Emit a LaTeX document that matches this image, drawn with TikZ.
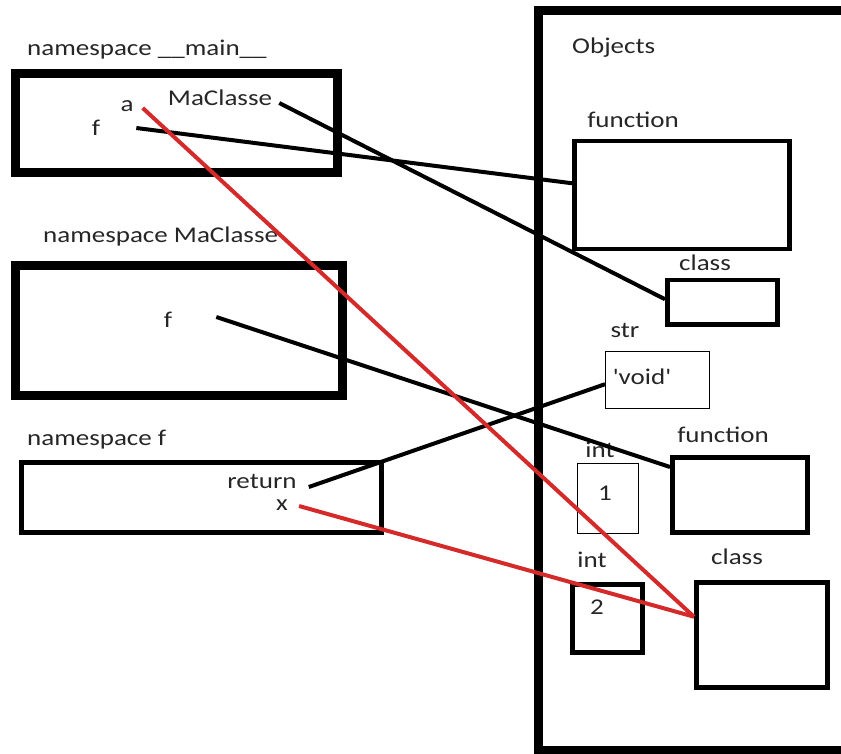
\documentclass[tikz,border=0pt]{standalone}
\usepackage{fontspec}
\newfontfamily\lbl{Carlito}[FakeStretch=1.2, Ligatures=TeXOff]
\definecolor{ptr}{RGB}{212,42,42}
\begin{document}
\begin{tikzpicture}[x=1pt, y=-1pt,
  lab/.style={font=\lbl\fontsize{22.5}{26}\selectfont, inner sep=0pt, text=black!85},
  nsbox/.style={draw, line width=9pt, inner sep=0pt, anchor=north west},
  objbox/.style={draw, line width=4.5pt, inner sep=0pt, anchor=north west},
  thinbox/.style={draw, line width=1.4pt, inner sep=0pt, anchor=north west},
  ref/.style={line width=4pt, black},
  redref/.style={line width=4pt, ptr}]
\useasboundingbox (0,0) rectangle (841,754);
\begin{scope}
\clip (0,0) rectangle (841,754);

% frame of the object heap
\draw[line width=9pt] (860,11) -- (538,11) -- (538,750) -- (860,750);
\node[lab, anchor=west] (objects) at (572,48) {Objects};

% namespaces
\node[lab, anchor=west] (nsmainlbl) at (27,50) {namespace \_\_main\_\_};
\node[nsbox, minimum width=322pt, minimum height=99pt] (nsmain) at (11,69) {};
\node[lab, anchor=west] (nsclslbl) at (43,237) {namespace MaClasse};
\node[nsbox, minimum width=327pt, minimum height=130pt] (nscls) at (11,261) {};
\node[lab, anchor=west] (nsflbl) at (27,440) {namespace f};
\node[objbox, minimum width=360pt, minimum height=70pt] (nsf) at (19,460) {};

% names
\node[lab] (nMaClasse) at (220,98) {MaClasse};
\node[lab] (na) at (127,106) {a};
\node[lab] (nf) at (96,128) {f};
\node[lab] (nclsf) at (168,320) {f};
\node[lab] (nreturn) at (262,481) {return};
\node[lab] (nx) at (282,505) {x};

% objects
\node[lab] (fn1lbl) at (633,120) {function};
\node[objbox, minimum width=215pt, minimum height=108pt] (fn1) at (572,139) {};
\node[lab] (cls1lbl) at (705,263) {class};
\node[objbox, minimum width=110pt, minimum height=44pt] (cls1) at (665,278) {};
\node[lab] (strlbl) at (625,330) {str};
\node[thinbox, minimum width=104pt, minimum height=57pt] (str) at (605,351) {};
\node[lab] (void) at (642,377) {'void'};
\node[lab] (fn2lbl) at (723,435) {function};
\node[objbox, minimum width=135pt, minimum height=75pt] (fn2) at (670,455) {};
\node[lab] (int1lbl) at (600,450) {int};
\node[thinbox, minimum width=61pt, minimum height=70pt] (int1) at (577,463) {};
\node[lab] (one) at (605,493) {1};
\node[lab] (int2lbl) at (592,560) {int};
\node[objbox, minimum width=70pt, minimum height=68pt] (int2) at (570,582) {};
\node[lab] (two) at (597,607) {2};
\node[lab] (cls2lbl) at (737,557) {class};
\node[objbox, minimum width=131pt, minimum height=105pt] (cls2) at (694,580) {};

% references
\coordinate (fstart) at ([xshift=36pt]nf.east);
\coordinate (fn1in) at ([yshift=12pt]fn1.west);
\draw[ref] (fstart) -- (fn1in);
\draw[ref] ([xshift=7pt,yshift=-5pt]nMaClasse.east) -- ([yshift=3pt]cls1.west);
\draw[ref] ([xshift=44pt,yshift=3pt]nclsf.east) -- ([yshift=-12pt]fn2.north west);
\draw[ref] ([xshift=12pt,yshift=-6pt]nreturn.east) -- ([yshift=-4pt]str.west);
\draw[redref] ([xshift=9pt,yshift=-2pt]na.east) -- ([yshift=18pt]cls2.west);
\draw[redref] ([xshift=11pt,yshift=-1pt]nx.east) -- ([yshift=18pt]cls2.west);
\end{scope}
\end{tikzpicture}
\end{document}
